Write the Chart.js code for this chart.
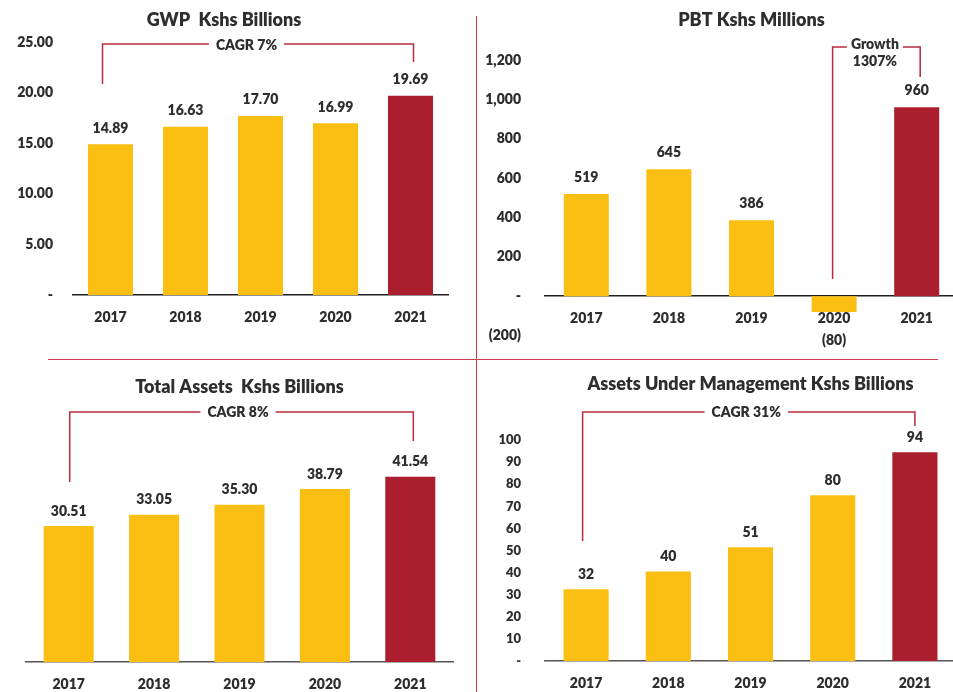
<!DOCTYPE html>
<html>
<head>
<meta charset="utf-8">
<script src="https://cdn.jsdelivr.net/npm/chart.js@4.4.0/dist/chart.umd.min.js"></script>
<style>
  body { margin: 0; background: #fff; }
  #page { position: relative; width: 953px; height: 692px; overflow: hidden; }
  canvas { position: absolute; }
  .sep { position: absolute; background: #c8414f; }
</style>
</head>
<body>
<div id="page">
  <canvas id="gwpChart" width="476" height="340" style="left:0;top:0"></canvas>
  <canvas id="pbtChart" width="482" height="360" style="left:476px;top:0"></canvas>
  <canvas id="assetsChart" width="476" height="332" style="left:0;top:360px"></canvas>
  <canvas id="aumChart" width="480" height="332" style="left:476px;top:360px"></canvas>
  <div class="sep" style="left:476px;top:16px;width:1px;height:676px"></div>
  <div class="sep" style="left:48px;top:359px;width:890px;height:1px"></div>
</div>
<script>
const years = ['2017', '2018', '2019', '2020', '2021'];
const gwpValues = [14.89, 16.63, 17.70, 16.99, 19.69];
const pbtValues = [519, 645, 386, -80, 960];
const totalAssetsValues = [30.51, 33.05, 35.30, 38.79, 41.54];
// bars as drawn in the picture; the printed labels differ for 2020
const aumValues = [32.5, 40.5, 51.5, 75, 94.5];
const aumLabels = ['32', '40', '51', '80', '94'];

const yellow = '#FBBF14';
const red = '#AB1E2D';
const textColor = '#2e2e2e';
const bracketColor = '#b82c3c';
const fontFamily = 'Lato, "Open Sans", sans-serif';
const weight = '800';

const barColors = years.map((y, i) => i === years.length - 1 ? red : yellow);

const barLabels = {
    id: 'barLabels',
    afterDatasetsDraw(chart, args, opts) {
        const ctx = chart.ctx;
        const meta = chart.getDatasetMeta(0);
        const data = chart.data.datasets[0].data;
        ctx.save();
        ctx.font = weight + ' 14px ' + fontFamily;
        ctx.fillStyle = textColor;
        ctx.textAlign = 'center';
        ctx.textBaseline = 'middle';
        meta.data.forEach((bar, i) => {
            const y = data[i] < 0 ? bar.y + opts.below : bar.y - opts.offset;
            ctx.fillText(opts.labels[i], bar.x, y);
        });
        ctx.restore();
    }
};

const bracket = {
    id: 'bracket',
    afterDatasetsDraw(chart, args, o) {
        const ctx = chart.ctx;
        const meta = chart.getDatasetMeta(0);
        const x1 = meta.data[o.from].x + o.dx1;
        const x2 = meta.data[o.to].x + o.dx2;
        const tx = (x1 + x2) / 2 + o.textDx;
        ctx.save();
        ctx.font = weight + ' 14px ' + fontFamily;
        const w = ctx.measureText(o.text[0]).width;
        ctx.strokeStyle = bracketColor;
        ctx.lineWidth = 1.5;
        ctx.beginPath();
        ctx.moveTo(x1, o.leftEnd);
        ctx.lineTo(x1, o.top);
        ctx.lineTo(tx - w / 2 - o.gap, o.top);
        ctx.moveTo(tx + w / 2 + o.gap, o.top);
        ctx.lineTo(x2, o.top);
        ctx.lineTo(x2, o.rightEnd);
        ctx.stroke();
        ctx.fillStyle = textColor;
        ctx.textAlign = 'center';
        ctx.textBaseline = 'middle';
        o.text.forEach((t, k) => ctx.fillText(t, tx, o.textY + k * 17));
        ctx.restore();
    }
};

const tickFont = size => ({ family: fontFamily, size: size, weight: weight });

const makeChart = (id, values, cfg) => new Chart(document.getElementById(id), {
    type: 'bar',
    data: {
        labels: years,
        datasets: [{
            data: values,
            backgroundColor: barColors,
            categoryPercentage: 1,
            barPercentage: cfg.barPct
        }]
    },
    options: {
        responsive: false,
        animation: false,
        layout: { padding: cfg.padding },
        plugins: {
            legend: { display: false },
            tooltip: { enabled: false },
            title: {
                display: true,
                text: cfg.title,
                color: textColor,
                fullSize: cfg.titleFull,
                font: { family: fontFamily, size: 18, weight: weight },
                padding: cfg.titlePad
            },
            barLabels: cfg.labels,
            bracket: cfg.bracket
        },
        scales: {
            x: {
                position: cfg.xPos,
                grid: { display: false },
                border: { color: cfg.axisColor, width: 1.5 },
                ticks: { color: textColor, font: tickFont(14), padding: 6 },
                afterFit: s => { s.height = cfg.xHeight; }
            },
            y: cfg.y
        }
    },
    plugins: [barLabels, bracket]
});

makeChart('gwpChart', gwpValues, {
    title: 'GWP  Kshs Billions',
    titleFull: true,
    titlePad: { top: 9.5, bottom: 11 },
    padding: { left: 0, right: 28, top: 0, bottom: 0 },
    barPct: 0.6,
    axisColor: '#1f1f1f',
    xPos: 'bottom',
    xHeight: 45,
    labels: { labels: gwpValues.map(v => v.toFixed(2)), offset: 16, below: 0 },
    bracket: { from: 0, to: 4, dx1: -8, dx2: 3, top: 44, leftEnd: 84, rightEnd: 62,
        text: ['CAGR 7%'], textY: 45, textDx: -11.5, gap: 7 },
    y: {
        min: 0, max: 25,
        grid: { display: false },
        border: { display: false },
        ticks: { stepSize: 5, padding: 12, color: textColor, font: tickFont(14),
            callback: v => v === 0 ? '-' : v.toFixed(2) },
        afterFit: s => { s.width = 73; }
    }
});

makeChart('pbtChart', pbtValues, {
    title: 'PBT Kshs Millions',
    titleFull: false,
    titlePad: { top: 9.5, bottom: 29 },
    padding: { left: 0, right: 0, top: 0, bottom: 0 },
    barPct: 0.545,
    axisColor: '#1f1f1f',
    xPos: { y: 0 },
    xHeight: 26,
    labels: { labels: pbtValues.map(v => v < 0 ? '(' + Math.abs(v) + ')' : String(v)), offset: 17, below: 28 },
    bracket: { from: 3, to: 4, dx1: -1.5, dx2: 3.5, top: 47, leftEnd: 279, rightEnd: 77,
        text: ['Growth', '1307%'], textY: 44, textDx: -1.5, gap: 4 },
    y: {
        min: -200, max: 1200,
        grid: { display: false },
        border: { display: false },
        ticks: { stepSize: 200, padding: 16, color: textColor, font: tickFont(14),
            callback: v => v === 0 ? '-' : v < 0 ? '(' + Math.abs(v) + ')' : v.toLocaleString('en-US') },
        afterFit: s => { s.width = 69; }
    }
});

makeChart('assetsChart', totalAssetsValues, {
    title: 'Total Assets  Kshs Billions',
    titleFull: true,
    titlePad: { top: 16.5, bottom: 41 },
    padding: { left: 26, right: 23, top: 0, bottom: 0 },
    barPct: 0.586,
    axisColor: '#555555',
    xPos: 'bottom',
    xHeight: 30,
    labels: { labels: totalAssetsValues.map(v => v.toFixed(2)), offset: 15, below: 0 },
    bracket: { from: 0, to: 4, dx1: 1, dx2: 3, top: 52, leftEnd: 122, rightEnd: 81,
        text: ['CAGR 8%'], textY: 52, textDx: -3.5, gap: 7 },
    y: { display: false, min: 0, max: 50 }
});

makeChart('aumChart', aumValues, {
    title: 'Assets Under Management Kshs Billions',
    titleFull: false,
    titlePad: { top: 13.5, bottom: 45 },
    padding: { left: 0, right: 0, top: 0, bottom: 0 },
    barPct: 0.549,
    axisColor: '#555555',
    xPos: 'bottom',
    xHeight: 31,
    labels: { labels: aumLabels, offset: 15, below: 0 },
    bracket: { from: 0, to: 4, dx1: -3.5, dx2: 0, top: 52, leftEnd: 181, rightEnd: 66,
        text: ['CAGR 31%'], textY: 52, textDx: -2.5, gap: 7 },
    y: {
        min: 0, max: 100,
        grid: { display: false },
        border: { display: false },
        ticks: { stepSize: 10, padding: 16, color: textColor, font: tickFont(13),
            callback: v => v === 0 ? '-' : String(v) },
        afterFit: s => { s.width = 69; }
    }
});
</script>
</body>
</html>
